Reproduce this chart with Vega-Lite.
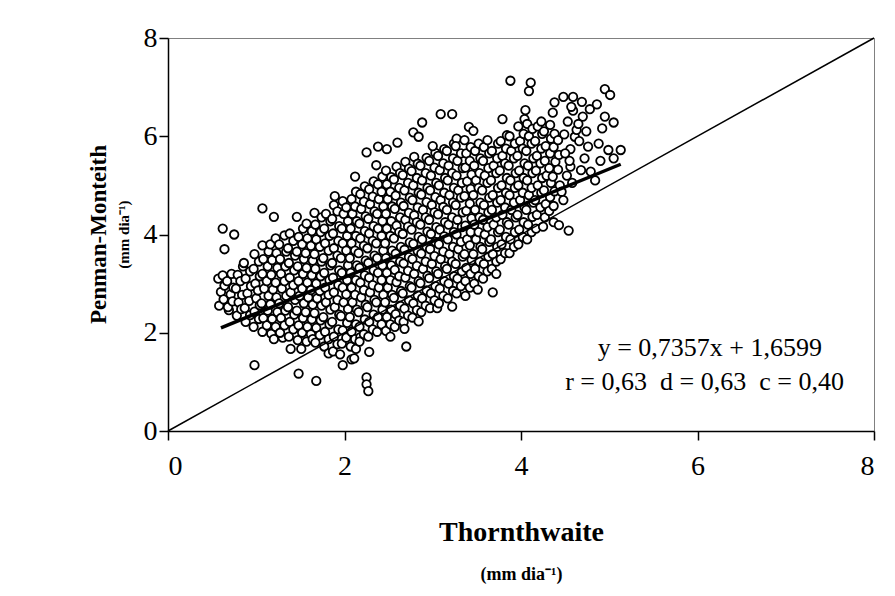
{
"$schema": "https://vega.github.io/schema/vega-lite/v6.json",
"width": 706, "height": 393,
"autosize": {"type": "none"},
"padding": {"left": 168, "top": 38, "right": 21, "bottom": 165},
"background": "white",
"title": {"text": "Penman-Monteith", "subtitle": "(mm dia⁻¹)", "orient": "left", "anchor": "middle", "font": "Liberation Serif", "fontSize": 23, "fontWeight": "bold", "subtitleFont": "Liberation Serif", "subtitleFontSize": 15, "subtitleFontWeight": "bold", "color": "black", "subtitleColor": "black", "offset": 11, "subtitlePadding": 6},
"data": {"values": [
{"t":0.58,"pm":2.55},{"t":0.60,"pm":2.83},{"t":0.57,"pm":3.10},{"t":0.63,"pm":2.68},{"t":0.64,"pm":2.96},{"t":0.62,"pm":3.17},{"t":0.62,"pm":4.12},{"t":0.64,"pm":3.70},{"t":0.69,"pm":2.46},
{"t":0.68,"pm":2.52},{"t":0.71,"pm":2.78},{"t":0.67,"pm":3.05},{"t":0.73,"pm":2.64},{"t":0.74,"pm":2.92},{"t":0.72,"pm":3.20},{"t":0.75,"pm":4.00},
{"t":0.78,"pm":2.35},{"t":0.80,"pm":2.62},{"t":0.77,"pm":2.90},{"t":0.79,"pm":3.18},{"t":0.83,"pm":2.48},{"t":0.84,"pm":2.77},{"t":0.82,"pm":3.05},{"t":0.85,"pm":3.35},
{"t":0.88,"pm":2.22},{"t":0.87,"pm":2.50},{"t":0.90,"pm":2.80},{"t":0.88,"pm":3.10},{"t":0.86,"pm":3.42},{"t":0.93,"pm":2.36},{"t":0.92,"pm":2.65},{"t":0.94,"pm":2.95},{"t":0.93,"pm":3.25},
{"t":0.97,"pm":2.12},{"t":0.98,"pm":2.43},{"t":1.00,"pm":2.70},{"t":0.99,"pm":3.00},{"t":0.97,"pm":3.30},{"t":0.98,"pm":3.60},{"t":1.03,"pm":2.28},{"t":1.04,"pm":2.56},{"t":1.02,"pm":2.86},{"t":1.04,"pm":3.15},{"t":1.03,"pm":3.45},{"t":0.98,"pm":1.34},{"t":1.07,"pm":4.53},
{"t":1.07,"pm":2.02},{"t":1.08,"pm":2.30},{"t":1.06,"pm":2.60},{"t":1.09,"pm":2.90},{"t":1.07,"pm":3.20},{"t":1.08,"pm":3.50},{"t":1.07,"pm":3.78},{"t":1.12,"pm":2.15},{"t":1.13,"pm":2.45},{"t":1.14,"pm":2.75},{"t":1.12,"pm":3.05},{"t":1.13,"pm":3.35},{"t":1.14,"pm":3.65},{"t":1.20,"pm":4.36},
{"t":1.17,"pm":1.98},{"t":1.18,"pm":2.28},{"t":1.16,"pm":2.58},{"t":1.19,"pm":2.88},{"t":1.17,"pm":3.18},{"t":1.18,"pm":3.48},{"t":1.16,"pm":3.80},{"t":1.22,"pm":2.12},{"t":1.24,"pm":2.42},{"t":1.23,"pm":2.72},{"t":1.22,"pm":3.02},{"t":1.24,"pm":3.32},{"t":1.23,"pm":3.62},{"t":1.22,"pm":3.92},{"t":1.20,"pm":1.87},{"t":1.30,"pm":1.90},
{"t":1.27,"pm":2.00},{"t":1.28,"pm":2.30},{"t":1.26,"pm":2.60},{"t":1.29,"pm":2.90},{"t":1.28,"pm":3.20},{"t":1.27,"pm":3.50},{"t":1.26,"pm":3.80},{"t":1.32,"pm":2.15},{"t":1.33,"pm":2.45},{"t":1.34,"pm":2.75},{"t":1.32,"pm":3.05},{"t":1.33,"pm":3.35},{"t":1.34,"pm":3.65},{"t":1.32,"pm":3.98},
{"t":1.37,"pm":1.92},{"t":1.38,"pm":2.22},{"t":1.36,"pm":2.52},{"t":1.39,"pm":2.82},{"t":1.38,"pm":3.12},{"t":1.37,"pm":3.42},{"t":1.36,"pm":3.72},{"t":1.38,"pm":4.02},{"t":1.42,"pm":2.07},{"t":1.43,"pm":2.37},{"t":1.44,"pm":2.67},{"t":1.42,"pm":2.97},{"t":1.43,"pm":3.27},{"t":1.44,"pm":3.57},{"t":1.42,"pm":3.87},{"t":1.39,"pm":1.67},{"t":1.46,"pm":4.36},
{"t":1.47,"pm":1.85},{"t":1.48,"pm":2.15},{"t":1.46,"pm":2.45},{"t":1.49,"pm":2.75},{"t":1.48,"pm":3.05},{"t":1.47,"pm":3.35},{"t":1.46,"pm":3.65},{"t":1.48,"pm":3.95},{"t":1.52,"pm":2.00},{"t":1.53,"pm":2.30},{"t":1.54,"pm":2.60},{"t":1.52,"pm":2.90},{"t":1.53,"pm":3.20},{"t":1.54,"pm":3.50},{"t":1.52,"pm":3.80},{"t":1.53,"pm":4.12},{"t":1.51,"pm":1.67},{"t":1.48,"pm":1.17},
{"t":1.57,"pm":1.82},{"t":1.58,"pm":2.12},{"t":1.56,"pm":2.42},{"t":1.59,"pm":2.72},{"t":1.58,"pm":3.02},{"t":1.57,"pm":3.32},{"t":1.56,"pm":3.62},{"t":1.58,"pm":3.92},{"t":1.57,"pm":4.22},{"t":1.62,"pm":1.97},{"t":1.63,"pm":2.27},{"t":1.64,"pm":2.57},{"t":1.62,"pm":2.87},{"t":1.63,"pm":3.17},{"t":1.64,"pm":3.47},{"t":1.62,"pm":3.77},{"t":1.63,"pm":4.07},{"t":1.64,"pm":1.87},{"t":1.66,"pm":4.44},{"t":1.68,"pm":1.02},
{"t":1.67,"pm":1.80},{"t":1.68,"pm":2.10},{"t":1.66,"pm":2.40},{"t":1.69,"pm":2.70},{"t":1.68,"pm":3.00},{"t":1.67,"pm":3.30},{"t":1.66,"pm":3.60},{"t":1.68,"pm":3.90},{"t":1.67,"pm":4.20},{"t":1.72,"pm":1.95},{"t":1.73,"pm":2.25},{"t":1.74,"pm":2.55},{"t":1.72,"pm":2.85},{"t":1.73,"pm":3.15},{"t":1.74,"pm":3.45},{"t":1.72,"pm":3.75},{"t":1.73,"pm":4.05},{"t":1.74,"pm":4.35},
{"t":1.77,"pm":1.72},{"t":1.78,"pm":2.02},{"t":1.76,"pm":2.32},{"t":1.79,"pm":2.62},{"t":1.78,"pm":2.92},{"t":1.77,"pm":3.22},{"t":1.76,"pm":3.52},{"t":1.78,"pm":3.82},{"t":1.77,"pm":4.12},{"t":1.79,"pm":4.42},{"t":1.82,"pm":1.87},{"t":1.83,"pm":2.17},{"t":1.84,"pm":2.47},{"t":1.82,"pm":2.77},{"t":1.83,"pm":3.07},{"t":1.84,"pm":3.37},{"t":1.82,"pm":3.67},{"t":1.83,"pm":3.97},{"t":1.84,"pm":4.27},{"t":1.82,"pm":1.58},{"t":1.89,"pm":4.78},
{"t":1.87,"pm":1.62},{"t":1.88,"pm":1.92},{"t":1.86,"pm":2.22},{"t":1.89,"pm":2.52},{"t":1.88,"pm":2.82},{"t":1.87,"pm":3.12},{"t":1.86,"pm":3.42},{"t":1.88,"pm":3.72},{"t":1.87,"pm":4.02},{"t":1.86,"pm":4.32},{"t":1.88,"pm":4.60},{"t":1.92,"pm":1.77},{"t":1.93,"pm":2.07},{"t":1.94,"pm":2.37},{"t":1.92,"pm":2.67},{"t":1.93,"pm":2.97},{"t":1.94,"pm":3.27},{"t":1.92,"pm":3.57},{"t":1.93,"pm":3.87},{"t":1.94,"pm":4.17},{"t":1.92,"pm":4.47},{"t":1.98,"pm":1.34},{"t":1.95,"pm":1.56},
{"t":1.97,"pm":1.78},{"t":1.98,"pm":2.05},{"t":1.96,"pm":2.34},{"t":1.99,"pm":2.62},{"t":1.98,"pm":2.92},{"t":1.97,"pm":3.22},{"t":1.96,"pm":3.52},{"t":1.98,"pm":3.82},{"t":1.97,"pm":4.12},{"t":1.99,"pm":4.42},{"t":1.98,"pm":4.68},{"t":2.02,"pm":1.90},{"t":2.03,"pm":2.20},{"t":2.04,"pm":2.48},{"t":2.02,"pm":2.78},{"t":2.03,"pm":3.07},{"t":2.04,"pm":3.37},{"t":2.02,"pm":3.67},{"t":2.03,"pm":3.97},{"t":2.04,"pm":4.27},{"t":2.02,"pm":4.55},{"t":2.08,"pm":1.46},
{"t":2.07,"pm":1.72},{"t":2.08,"pm":2.02},{"t":2.06,"pm":2.32},{"t":2.09,"pm":2.62},{"t":2.08,"pm":2.92},{"t":2.07,"pm":3.22},{"t":2.06,"pm":3.52},{"t":2.08,"pm":3.82},{"t":2.07,"pm":4.12},{"t":2.09,"pm":4.42},{"t":2.08,"pm":4.72},{"t":2.12,"pm":1.87},{"t":2.13,"pm":2.17},{"t":2.14,"pm":2.47},{"t":2.12,"pm":2.77},{"t":2.13,"pm":3.07},{"t":2.14,"pm":3.37},{"t":2.12,"pm":3.67},{"t":2.13,"pm":3.97},{"t":2.14,"pm":4.27},{"t":2.12,"pm":4.57},{"t":2.13,"pm":4.87},{"t":2.13,"pm":1.67},{"t":2.11,"pm":1.48},{"t":2.12,"pm":5.18},{"t":2.18,"pm":1.91},
{"t":2.17,"pm":1.82},{"t":2.17,"pm":2.12},{"t":2.16,"pm":2.42},{"t":2.19,"pm":2.72},{"t":2.18,"pm":3.02},{"t":2.17,"pm":3.32},{"t":2.16,"pm":3.62},{"t":2.18,"pm":3.92},{"t":2.17,"pm":4.22},{"t":2.19,"pm":4.52},{"t":2.18,"pm":4.82},{"t":2.22,"pm":1.97},{"t":2.23,"pm":2.27},{"t":2.24,"pm":2.57},{"t":2.22,"pm":2.87},{"t":2.23,"pm":3.17},{"t":2.24,"pm":3.47},{"t":2.22,"pm":3.77},{"t":2.23,"pm":4.07},{"t":2.24,"pm":4.37},{"t":2.22,"pm":4.67},{"t":2.23,"pm":4.98},{"t":2.25,"pm":5.67},{"t":2.28,"pm":1.61},{"t":2.25,"pm":1.09},{"t":2.25,"pm":0.95},{"t":2.27,"pm":0.81},
{"t":2.27,"pm":1.92},{"t":2.28,"pm":2.22},{"t":2.26,"pm":2.52},{"t":2.29,"pm":2.82},{"t":2.28,"pm":3.12},{"t":2.27,"pm":3.42},{"t":2.26,"pm":3.72},{"t":2.28,"pm":4.02},{"t":2.27,"pm":4.32},{"t":2.29,"pm":4.62},{"t":2.28,"pm":4.92},{"t":2.32,"pm":2.07},{"t":2.33,"pm":2.37},{"t":2.34,"pm":2.67},{"t":2.32,"pm":2.97},{"t":2.33,"pm":3.27},{"t":2.34,"pm":3.57},{"t":2.32,"pm":3.87},{"t":2.33,"pm":4.17},{"t":2.34,"pm":4.47},{"t":2.32,"pm":4.77},{"t":2.33,"pm":5.08},{"t":2.36,"pm":5.41},{"t":2.38,"pm":5.79},
{"t":2.37,"pm":2.02},{"t":2.38,"pm":2.32},{"t":2.36,"pm":2.62},{"t":2.39,"pm":2.92},{"t":2.38,"pm":3.22},{"t":2.37,"pm":3.52},{"t":2.36,"pm":3.82},{"t":2.38,"pm":4.12},{"t":2.37,"pm":4.42},{"t":2.39,"pm":4.72},{"t":2.38,"pm":5.02},{"t":2.42,"pm":2.17},{"t":2.43,"pm":2.47},{"t":2.44,"pm":2.77},{"t":2.42,"pm":3.07},{"t":2.43,"pm":3.37},{"t":2.44,"pm":3.67},{"t":2.42,"pm":3.97},{"t":2.43,"pm":4.27},{"t":2.44,"pm":4.57},{"t":2.42,"pm":4.87},{"t":2.43,"pm":5.18},{"t":2.48,"pm":5.74},
{"t":2.47,"pm":2.04},{"t":2.48,"pm":2.32},{"t":2.46,"pm":2.62},{"t":2.49,"pm":2.92},{"t":2.48,"pm":3.22},{"t":2.47,"pm":3.52},{"t":2.46,"pm":3.82},{"t":2.48,"pm":4.12},{"t":2.47,"pm":4.42},{"t":2.49,"pm":4.72},{"t":2.48,"pm":5.02},{"t":2.47,"pm":5.30},{"t":2.52,"pm":2.17},{"t":2.53,"pm":2.47},{"t":2.54,"pm":2.77},{"t":2.52,"pm":3.07},{"t":2.53,"pm":3.37},{"t":2.54,"pm":3.67},{"t":2.52,"pm":3.97},{"t":2.53,"pm":4.27},{"t":2.54,"pm":4.57},{"t":2.52,"pm":4.87},{"t":2.53,"pm":5.17},{"t":2.52,"pm":1.92},
{"t":2.57,"pm":2.12},{"t":2.58,"pm":2.38},{"t":2.56,"pm":2.71},{"t":2.59,"pm":3.03},{"t":2.57,"pm":3.28},{"t":2.58,"pm":3.61},{"t":2.56,"pm":3.92},{"t":2.59,"pm":4.18},{"t":2.57,"pm":4.52},{"t":2.58,"pm":4.79},{"t":2.56,"pm":5.12},{"t":2.59,"pm":5.38},{"t":2.62,"pm":2.25},{"t":2.63,"pm":2.55},{"t":2.64,"pm":2.85},{"t":2.62,"pm":3.15},{"t":2.63,"pm":3.45},{"t":2.64,"pm":3.75},{"t":2.62,"pm":4.05},{"t":2.63,"pm":4.35},{"t":2.64,"pm":4.65},{"t":2.62,"pm":4.95},{"t":2.63,"pm":5.25},{"t":2.60,"pm":5.87},
{"t":2.67,"pm":2.22},{"t":2.68,"pm":2.49},{"t":2.66,"pm":2.80},{"t":2.69,"pm":3.12},{"t":2.67,"pm":3.41},{"t":2.68,"pm":3.69},{"t":2.66,"pm":4.01},{"t":2.69,"pm":4.30},{"t":2.67,"pm":4.58},{"t":2.68,"pm":4.90},{"t":2.66,"pm":5.21},{"t":2.69,"pm":5.48},{"t":2.72,"pm":2.35},{"t":2.73,"pm":2.66},{"t":2.74,"pm":2.95},{"t":2.72,"pm":3.26},{"t":2.73,"pm":3.54},{"t":2.74,"pm":3.84},{"t":2.72,"pm":4.16},{"t":2.73,"pm":4.44},{"t":2.74,"pm":4.75},{"t":2.72,"pm":5.05},{"t":2.73,"pm":5.34},{"t":2.70,"pm":1.72},{"t":2.68,"pm":2.08},{"t":2.78,"pm":6.08},
{"t":2.77,"pm":2.31},{"t":2.78,"pm":2.60},{"t":2.76,"pm":2.92},{"t":2.79,"pm":3.20},{"t":2.77,"pm":3.50},{"t":2.78,"pm":3.81},{"t":2.76,"pm":4.10},{"t":2.79,"pm":4.39},{"t":2.77,"pm":4.70},{"t":2.78,"pm":5.00},{"t":2.76,"pm":5.29},{"t":2.79,"pm":5.58},{"t":2.82,"pm":2.46},{"t":2.83,"pm":2.76},{"t":2.84,"pm":3.05},{"t":2.82,"pm":3.36},{"t":2.83,"pm":3.66},{"t":2.84,"pm":3.95},{"t":2.82,"pm":4.25},{"t":2.83,"pm":4.55},{"t":2.84,"pm":4.85},{"t":2.82,"pm":5.15},{"t":2.83,"pm":5.44},{"t":2.84,"pm":2.23},{"t":2.84,"pm":5.99},{"t":2.88,"pm":6.28},
{"t":2.87,"pm":2.42},{"t":2.88,"pm":2.70},{"t":2.86,"pm":3.01},{"t":2.89,"pm":3.30},{"t":2.87,"pm":3.61},{"t":2.88,"pm":3.90},{"t":2.86,"pm":4.20},{"t":2.89,"pm":4.50},{"t":2.87,"pm":4.81},{"t":2.88,"pm":5.10},{"t":2.86,"pm":5.40},{"t":2.92,"pm":2.55},{"t":2.93,"pm":2.86},{"t":2.94,"pm":3.16},{"t":2.92,"pm":3.45},{"t":2.93,"pm":3.75},{"t":2.94,"pm":4.06},{"t":2.92,"pm":4.35},{"t":2.93,"pm":4.66},{"t":2.94,"pm":4.95},{"t":2.92,"pm":5.25},{"t":2.93,"pm":5.56},
{"t":2.97,"pm":2.50},{"t":2.98,"pm":2.80},{"t":2.96,"pm":3.11},{"t":2.99,"pm":3.40},{"t":2.97,"pm":3.70},{"t":2.98,"pm":4.01},{"t":2.96,"pm":4.30},{"t":2.99,"pm":4.60},{"t":2.97,"pm":4.90},{"t":2.98,"pm":5.20},{"t":2.96,"pm":5.50},{"t":3.02,"pm":2.66},{"t":3.03,"pm":2.95},{"t":3.04,"pm":3.25},{"t":3.02,"pm":3.56},{"t":3.03,"pm":3.85},{"t":3.04,"pm":4.15},{"t":3.02,"pm":4.45},{"t":3.03,"pm":4.76},{"t":3.04,"pm":5.05},{"t":3.02,"pm":5.36},{"t":3.03,"pm":5.66},{"t":3.00,"pm":5.80},{"t":3.05,"pm":2.50},{"t":3.09,"pm":6.45},
{"t":3.07,"pm":2.60},{"t":3.08,"pm":2.90},{"t":3.06,"pm":3.20},{"t":3.09,"pm":3.50},{"t":3.07,"pm":3.80},{"t":3.08,"pm":4.10},{"t":3.06,"pm":4.41},{"t":3.09,"pm":4.70},{"t":3.07,"pm":5.00},{"t":3.08,"pm":5.31},{"t":3.06,"pm":5.60},{"t":3.12,"pm":2.75},{"t":3.13,"pm":3.05},{"t":3.14,"pm":3.35},{"t":3.12,"pm":3.65},{"t":3.13,"pm":3.96},{"t":3.14,"pm":4.25},{"t":3.12,"pm":4.56},{"t":3.13,"pm":4.85},{"t":3.14,"pm":5.15},{"t":3.12,"pm":5.45},{"t":3.13,"pm":5.74},
{"t":3.17,"pm":2.70},{"t":3.18,"pm":3.00},{"t":3.16,"pm":3.30},{"t":3.19,"pm":3.60},{"t":3.17,"pm":3.90},{"t":3.18,"pm":4.20},{"t":3.16,"pm":4.50},{"t":3.19,"pm":4.80},{"t":3.17,"pm":5.10},{"t":3.18,"pm":5.40},{"t":3.16,"pm":5.70},{"t":3.22,"pm":2.53},{"t":3.23,"pm":2.85},{"t":3.24,"pm":3.15},{"t":3.22,"pm":3.45},{"t":3.23,"pm":3.75},{"t":3.24,"pm":4.05},{"t":3.22,"pm":4.35},{"t":3.23,"pm":4.65},{"t":3.24,"pm":4.95},{"t":3.22,"pm":5.25},{"t":3.23,"pm":5.55},{"t":3.24,"pm":5.85},{"t":3.22,"pm":6.45},{"t":3.27,"pm":5.95},
{"t":3.27,"pm":2.80},{"t":3.28,"pm":3.10},{"t":3.26,"pm":3.40},{"t":3.29,"pm":3.70},{"t":3.27,"pm":4.00},{"t":3.28,"pm":4.30},{"t":3.26,"pm":4.60},{"t":3.29,"pm":4.90},{"t":3.27,"pm":5.20},{"t":3.28,"pm":5.50},{"t":3.26,"pm":5.80},{"t":3.32,"pm":2.95},{"t":3.33,"pm":3.25},{"t":3.34,"pm":3.55},{"t":3.32,"pm":3.85},{"t":3.33,"pm":4.15},{"t":3.34,"pm":4.45},{"t":3.32,"pm":4.75},{"t":3.33,"pm":5.05},{"t":3.34,"pm":5.35},{"t":3.32,"pm":5.65},{"t":3.37,"pm":2.75},
{"t":3.37,"pm":3.05},{"t":3.38,"pm":3.32},{"t":3.36,"pm":3.60},{"t":3.39,"pm":3.90},{"t":3.37,"pm":4.18},{"t":3.38,"pm":4.48},{"t":3.36,"pm":4.78},{"t":3.39,"pm":5.08},{"t":3.37,"pm":5.36},{"t":3.38,"pm":5.65},{"t":3.36,"pm":5.92},{"t":3.42,"pm":2.92},{"t":3.43,"pm":3.20},{"t":3.44,"pm":3.48},{"t":3.42,"pm":3.78},{"t":3.43,"pm":4.05},{"t":3.44,"pm":4.33},{"t":3.42,"pm":4.63},{"t":3.43,"pm":4.93},{"t":3.44,"pm":5.22},{"t":3.42,"pm":5.50},{"t":3.43,"pm":5.78},{"t":3.41,"pm":6.19},{"t":3.46,"pm":6.11},
{"t":3.47,"pm":3.00},{"t":3.48,"pm":3.30},{"t":3.46,"pm":3.60},{"t":3.49,"pm":3.90},{"t":3.47,"pm":4.20},{"t":3.48,"pm":4.50},{"t":3.46,"pm":4.80},{"t":3.49,"pm":5.10},{"t":3.47,"pm":5.40},{"t":3.48,"pm":5.70},{"t":3.52,"pm":3.15},{"t":3.53,"pm":3.45},{"t":3.54,"pm":3.75},{"t":3.52,"pm":4.05},{"t":3.53,"pm":4.35},{"t":3.54,"pm":4.65},{"t":3.52,"pm":4.95},{"t":3.53,"pm":5.25},{"t":3.54,"pm":5.55},{"t":3.52,"pm":5.85},{"t":3.51,"pm":2.88},
{"t":3.57,"pm":3.10},{"t":3.58,"pm":3.40},{"t":3.56,"pm":3.70},{"t":3.59,"pm":4.00},{"t":3.57,"pm":4.30},{"t":3.58,"pm":4.60},{"t":3.56,"pm":4.90},{"t":3.59,"pm":5.20},{"t":3.57,"pm":5.50},{"t":3.58,"pm":5.78},{"t":3.62,"pm":3.25},{"t":3.63,"pm":3.55},{"t":3.64,"pm":3.85},{"t":3.62,"pm":4.15},{"t":3.63,"pm":4.45},{"t":3.64,"pm":4.75},{"t":3.62,"pm":5.05},{"t":3.63,"pm":5.35},{"t":3.64,"pm":5.65},{"t":3.62,"pm":5.92},{"t":3.68,"pm":2.82},
{"t":3.67,"pm":3.30},{"t":3.68,"pm":3.60},{"t":3.66,"pm":3.90},{"t":3.69,"pm":4.20},{"t":3.67,"pm":4.50},{"t":3.68,"pm":4.80},{"t":3.66,"pm":5.10},{"t":3.69,"pm":5.40},{"t":3.67,"pm":5.70},{"t":3.72,"pm":3.45},{"t":3.73,"pm":3.75},{"t":3.74,"pm":4.05},{"t":3.72,"pm":4.35},{"t":3.73,"pm":4.65},{"t":3.74,"pm":4.95},{"t":3.72,"pm":5.25},{"t":3.73,"pm":5.55},{"t":3.74,"pm":5.85},{"t":3.72,"pm":3.20},{"t":3.79,"pm":6.35},
{"t":3.77,"pm":3.50},{"t":3.78,"pm":3.80},{"t":3.76,"pm":4.10},{"t":3.79,"pm":4.40},{"t":3.77,"pm":4.70},{"t":3.78,"pm":5.00},{"t":3.76,"pm":5.30},{"t":3.79,"pm":5.60},{"t":3.77,"pm":5.90},{"t":3.82,"pm":3.62},{"t":3.83,"pm":3.95},{"t":3.84,"pm":4.25},{"t":3.82,"pm":4.55},{"t":3.83,"pm":4.85},{"t":3.84,"pm":5.15},{"t":3.82,"pm":5.45},{"t":3.83,"pm":5.75},{"t":3.84,"pm":6.02},{"t":3.88,"pm":7.13},
{"t":3.87,"pm":3.62},{"t":3.88,"pm":3.90},{"t":3.86,"pm":4.20},{"t":3.89,"pm":4.50},{"t":3.87,"pm":4.80},{"t":3.88,"pm":5.10},{"t":3.86,"pm":5.40},{"t":3.89,"pm":5.70},{"t":3.87,"pm":6.00},{"t":3.92,"pm":3.75},{"t":3.93,"pm":4.05},{"t":3.94,"pm":4.35},{"t":3.92,"pm":4.65},{"t":3.93,"pm":4.95},{"t":3.94,"pm":5.25},{"t":3.92,"pm":5.55},{"t":3.93,"pm":5.85},
{"t":3.97,"pm":3.80},{"t":3.98,"pm":4.10},{"t":3.96,"pm":4.40},{"t":3.99,"pm":4.70},{"t":3.97,"pm":5.00},{"t":3.98,"pm":5.30},{"t":3.96,"pm":5.60},{"t":3.99,"pm":5.90},{"t":3.97,"pm":6.20},{"t":4.02,"pm":3.95},{"t":4.03,"pm":4.25},{"t":4.04,"pm":4.55},{"t":4.02,"pm":4.85},{"t":4.03,"pm":5.15},{"t":4.04,"pm":5.45},{"t":4.02,"pm":5.75},{"t":4.03,"pm":6.05},{"t":4.04,"pm":6.35},{"t":4.05,"pm":6.53},{"t":4.09,"pm":6.92},{"t":4.11,"pm":7.09},
{"t":4.07,"pm":3.90},{"t":4.08,"pm":4.20},{"t":4.06,"pm":4.50},{"t":4.09,"pm":4.80},{"t":4.07,"pm":5.10},{"t":4.08,"pm":5.40},{"t":4.06,"pm":5.70},{"t":4.09,"pm":6.00},{"t":4.07,"pm":6.25},{"t":4.12,"pm":4.05},{"t":4.13,"pm":4.36},{"t":4.14,"pm":4.65},{"t":4.12,"pm":4.95},{"t":4.13,"pm":5.25},{"t":4.14,"pm":5.55},{"t":4.12,"pm":5.85},{"t":4.13,"pm":6.15},
{"t":4.17,"pm":4.12},{"t":4.18,"pm":4.40},{"t":4.16,"pm":4.70},{"t":4.19,"pm":5.00},{"t":4.17,"pm":5.30},{"t":4.18,"pm":5.60},{"t":4.16,"pm":5.90},{"t":4.19,"pm":6.20},{"t":4.22,"pm":4.55},{"t":4.23,"pm":4.85},{"t":4.24,"pm":5.15},{"t":4.22,"pm":5.45},{"t":4.23,"pm":5.75},{"t":4.24,"pm":6.05},{"t":4.23,"pm":6.30},{"t":4.25,"pm":4.16},
{"t":4.27,"pm":4.35},{"t":4.28,"pm":4.62},{"t":4.26,"pm":4.90},{"t":4.29,"pm":5.20},{"t":4.27,"pm":5.50},{"t":4.28,"pm":5.80},{"t":4.26,"pm":6.10},{"t":4.32,"pm":4.48},{"t":4.33,"pm":4.76},{"t":4.34,"pm":5.05},{"t":4.32,"pm":5.35},{"t":4.33,"pm":5.65},{"t":4.34,"pm":5.95},{"t":4.33,"pm":6.23},{"t":4.36,"pm":6.48},{"t":4.38,"pm":6.69},{"t":4.37,"pm":4.25},
{"t":4.37,"pm":4.58},{"t":4.38,"pm":4.88},{"t":4.36,"pm":5.18},{"t":4.39,"pm":5.48},{"t":4.37,"pm":5.78},{"t":4.38,"pm":6.05},{"t":4.42,"pm":5.32},{"t":4.43,"pm":5.62},{"t":4.42,"pm":5.92},{"t":4.43,"pm":4.19},{"t":4.44,"pm":5.00},{"t":4.46,"pm":4.87},{"t":4.48,"pm":4.70},{"t":4.49,"pm":6.04},{"t":4.48,"pm":6.80},
{"t":4.54,"pm":4.08},{"t":4.56,"pm":5.38},{"t":4.56,"pm":5.74},{"t":4.59,"pm":6.80},{"t":4.59,"pm":6.52},{"t":4.61,"pm":5.99},{"t":4.63,"pm":6.13},{"t":4.55,"pm":5.50},{"t":4.52,"pm":5.20},{"t":4.58,"pm":5.05},{"t":4.50,"pm":5.65},{"t":4.53,"pm":6.30},{"t":4.57,"pm":6.60},{"t":4.68,"pm":5.31},{"t":4.70,"pm":6.40},{"t":4.69,"pm":6.70},{"t":4.74,"pm":6.10},{"t":4.76,"pm":5.79},{"t":4.79,"pm":5.28},{"t":4.72,"pm":5.55},{"t":4.66,"pm":5.90},{"t":4.78,"pm":6.55},{"t":4.65,"pm":6.25},{"t":4.84,"pm":5.10},{"t":4.86,"pm":6.65},{"t":4.92,"pm":6.16},{"t":4.95,"pm":6.40},{"t":4.95,"pm":6.96},{"t":4.99,"pm":5.72},{"t":5.01,"pm":6.84},{"t":5.05,"pm":6.28},{"t":5.05,"pm":5.55},{"t":5.13,"pm":5.72},{"t":4.88,"pm":5.85},{"t":4.90,"pm":5.50}
]},
"encoding": {
 "y": {"field": "pm", "type": "quantitative", "scale": {"domain": [0, 8], "nice": false}, "axis": {"title": null, "values": [0, 2, 4, 6, 8], "labelPadding": 2}}
},
"layer": [
{"mark": {"type": "circle", "size": 72, "fill": "white", "stroke": "black", "strokeWidth": 1.8, "opacity": 1},
 "encoding": {
  "x": {"field": "t", "type": "quantitative", "scale": {"domain": [0, 8], "nice": false}, "axis": {"title": "Thornthwaite", "orient": "bottom", "values": [0, 2, 4, 6, 8], "labelPadding": 12, "titlePadding": 38, "titleFontSize": 28, "titleFontWeight": "bold"}}
 }},
{"data": {"values": [{"t": 0, "pm": 0}, {"t": 8, "pm": 8}]},
 "mark": {"type": "line", "color": "black", "strokeWidth": 1.5},
 "encoding": {
  "x": {"field": "t", "type": "quantitative", "scale": {"domain": [0, 8], "nice": false}, "axis": {"title": "(mm dia⁻¹)", "orient": "bottom", "labels": false, "ticks": false, "domain": false, "titleFontSize": 18, "titleFontWeight": "bold", "titlePadding": 134}}
 }},
{"data": {"values": [{"t": 0.6, "pm": 2.10}, {"t": 5.13, "pm": 5.43}]},
 "mark": {"type": "line", "color": "black", "strokeWidth": 3.5},
 "encoding": {
  "x": {"field": "t", "type": "quantitative", "axis": null}
 }},
{"data": {"values": [{"t": 6.14, "pm": 1.69, "label": "y = 0,7357x + 1,6599"}, {"t": 6.08, "pm": 1.0, "label": "r = 0,63 \u00a0d = 0,63 \u00a0c = 0,40"}]},
 "mark": {"type": "text", "font": "Liberation Serif", "fontSize": 26, "color": "black", "align": "center", "baseline": "middle"},
 "encoding": {
  "x": {"field": "t", "type": "quantitative", "axis": null},
  "text": {"field": "label", "type": "nominal"}
 }}
],
"resolve": {"axis": {"x": "independent"}},
"config": {
 "view": {"stroke": "#808080", "strokeWidth": 1},
 "font": "Liberation Serif",
 "axis": {"grid": false, "domainColor": "black", "domainWidth": 1.5, "tickColor": "black", "tickWidth": 1.5, "tickSize": 9, "labelColor": "black", "titleColor": "black", "labelFont": "Liberation Serif", "titleFont": "Liberation Serif", "labelFontSize": 28}
}
}
